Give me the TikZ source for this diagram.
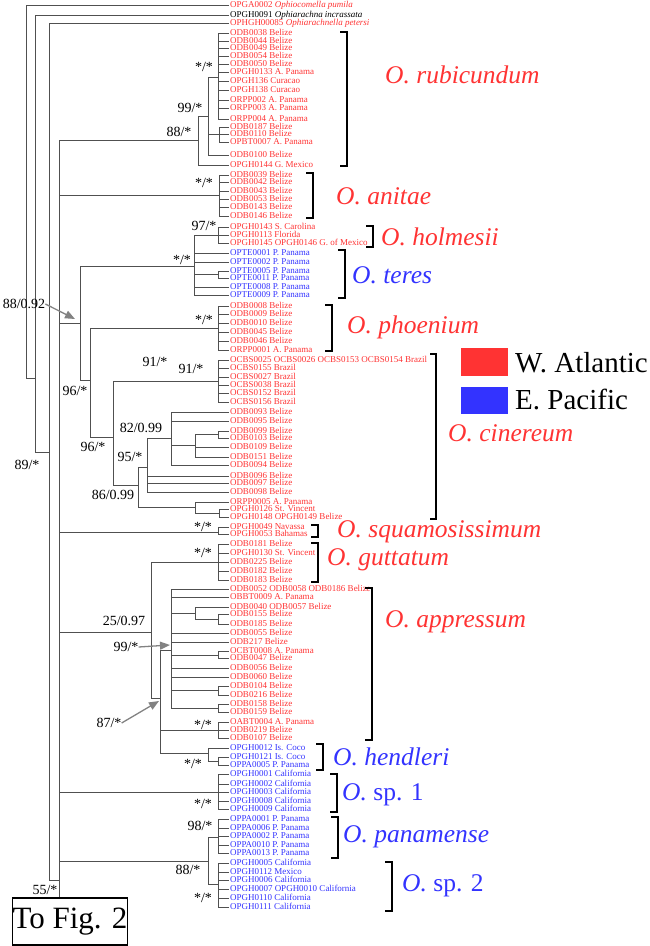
\documentclass[tikz,border=0pt]{standalone}
\usepackage{fontspec}
\setmainfont{Liberation Serif}
\usetikzlibrary{arrows.meta}
\definecolor{atl}{RGB}{255,51,51}
\definecolor{pac}{RGB}{51,51,255}
\definecolor{edgec}{RGB}{80,80,80}
\definecolor{arrc}{RGB}{130,130,130}
\newcommand\tp[4]{\node[tiplab,text=#3] (t#2) at (229,#2) {#4}; \draw[edge] (#1) |- (t#2.west);}
\begin{document}
\begin{tikzpicture}[x=1pt,y=-1pt,
 tiplab/.style={anchor=west,inner sep=0.8pt,text height=5.5pt,text depth=0.5pt,font=\fontsize{9}{9}\selectfont},
 edge/.style={draw=edgec,line width=0.7pt},
 suplab/.style={font=\fontsize{14}{14}\selectfont,inner sep=0},
 spc/.style={font=\fontsize{25.5}{25.5}\selectfont\itshape,anchor=west,inner sep=0},
 brkt/.style={draw=black,line width=1.2pt},
 arr/.style={draw=arrc,line width=1.3pt,-{Triangle[length=10pt,width=8pt]}}]
\useasboundingbox (0,0) rectangle (649,946);
% internal nodes
\coordinate (A) at (26,5);
\coordinate (B) at (35,378);
\coordinate (C) at (49,452);
\coordinate (D) at (59,880);
\coordinate (rub88) at (198,140);
\coordinate (rub99) at (208,116);
\coordinate (rubss) at (218,77);
\coordinate (subA) at (219,134);
\coordinate (anit) at (219,195);
\coordinate (n8892) at (80,323);
\coordinate (teres) at (194,266);
\coordinate (holm) at (218,235);
\coordinate (pairTE) at (218,274);
\coordinate (n96a) at (90,380);
\coordinate (phoe) at (218,328);
\coordinate (n96b) at (113,437);
\coordinate (brazil) at (218,381);
\coordinate (n86) at (138,485);
\coordinate (n95) at (147,467);
\coordinate (n82) at (171,438);
\coordinate (sub99) at (195,445);
\coordinate (pair99) at (218,434);
\coordinate (orpp) at (195,507);
\coordinate (pair2) at (219,513);
\coordinate (squam) at (218,532);
\coordinate (n2597) at (151,632);
\coordinate (gutt) at (218,562);
\coordinate (n87) at (160,698);
\coordinate (app99) at (171,650);
\coordinate (sub1) at (195,613);
\coordinate (pair155) at (218,619);
\coordinate (pairOC) at (218,655);
\coordinate (pair104) at (218,690);
\coordinate (pair158) at (218,708);
\coordinate (oabt) at (218,730);
\coordinate (hend) at (208,753);
\coordinate (pairH) at (218,761);
\coordinate (sp1) at (218,792);
\coordinate (n88b) at (208,861);
\coordinate (pana) at (218,837);
\coordinate (sp2) at (218,884);
% backbone
\draw[edge] (A) |- (B);
\draw[edge] (B) |- (C);
\draw[edge] (C) |- (D);
\foreach \c in {rub88,anit,n8892,squam,n2597,sp1,n88b} {\draw[edge] (D) |- (\c);}
\draw[edge] (rub88) |- (rub99);
\draw[edge] (rub99) |- (rubss);
\draw[edge] (rub99) |- (subA);
\draw[edge] (n8892) |- (teres);
\draw[edge] (n8892) |- (n96a);
\draw[edge] (teres) |- (holm);
\draw[edge] (teres) |- (pairTE);
\draw[edge] (n96a) |- (phoe);
\draw[edge] (n96a) |- (n96b);
\draw[edge] (n96b) |- (brazil);
\draw[edge] (n96b) |- (n86);
\draw[edge] (n86) |- (n95);
\draw[edge] (n86) |- (orpp);
\draw[edge] (n95) |- (n82);
\draw[edge] (n82) |- (sub99);
\draw[edge] (sub99) |- (pair99);
\draw[edge] (orpp) |- (pair2);
\draw[edge] (n2597) |- (gutt);
\draw[edge] (n2597) |- (n87);
\draw[edge] (n87) |- (app99);
\draw[edge] (n87) |- (oabt);
\draw[edge] (n87) |- (hend);
\draw[edge] (app99) |- (sub1);
\draw[edge] (sub1) |- (pair155);
\draw[edge] (app99) |- (pairOC);
\draw[edge] (app99) |- (pair104);
\draw[edge] (app99) |- (pair158);
\draw[edge] (hend) |- (pairH);
\draw[edge] (n88b) |- (pana);
\draw[edge] (n88b) |- (sp2);
% tips
\tp{A}{5}{atl}{OPGA0002 \textit{Ophiocomella pumila}}
\tp{B}{15}{black}{OPGH0091 \textit{Ophiarachna incrassata}}
\tp{C}{23}{atl}{OPHGH00085 \textit{Ophiarachnella petersi}}
\tp{rubss}{33}{atl}{ODB0038 Belize}
\tp{rubss}{41}{atl}{ODB0044 Belize}
\tp{rubss}{48}{atl}{ODB0049 Belize}
\tp{rubss}{56}{atl}{ODB0054 Belize}
\tp{rubss}{64}{atl}{ODB0050 Belize}
\tp{rubss}{72}{atl}{OPGH0133 A. Panama}
\tp{rubss}{81}{atl}{OPGH136 Curacao}
\tp{rubss}{90}{atl}{OPGH138 Curacao}
\tp{rubss}{100}{atl}{ORPP002 A. Panama}
\tp{rubss}{108}{atl}{ORPP003 A. Panama}
\tp{rubss}{119}{atl}{ORPP004 A. Panama}
\tp{subA}{127}{atl}{ODB0187 Belize}
\tp{subA}{134}{atl}{ODB0110 Belize}
\tp{subA}{142}{atl}{OPBT0007 A. Panama}
\tp{rub99}{155}{atl}{ODB0100 Belize}
\tp{rub88}{165}{atl}{OPGH0144 G. Mexico}
\tp{anit}{175}{atl}{ODB0039 Belize}
\tp{anit}{182}{atl}{ODB0042 Belize}
\tp{anit}{191}{atl}{ODB0043 Belize}
\tp{anit}{199}{atl}{ODB0053 Belize}
\tp{anit}{207}{atl}{ODB0143 Belize}
\tp{anit}{216}{atl}{ODB0146 Belize}
\tp{holm}{227}{atl}{OPGH0143 S. Carolina}
\tp{holm}{235}{atl}{OPGH0113 Florida}
\tp{holm}{243}{atl}{OPGH0145 OPGH0146 G. of Mexico}
\tp{teres}{253}{pac}{OPTE0001 P. Panama}
\tp{teres}{262}{pac}{OPTE0002 P. Panama}
\tp{pairTE}{271}{pac}{OPTE0005 P. Panama}
\tp{pairTE}{278}{pac}{OPTE0011 P. Panama}
\tp{teres}{287}{pac}{OPTE0008 P. Panama}
\tp{teres}{295}{pac}{OPTE0009 P. Panama}
\tp{phoe}{306}{atl}{ODB0008 Belize}
\tp{phoe}{314}{atl}{ODB0009 Belize}
\tp{phoe}{323}{atl}{ODB0010 Belize}
\tp{phoe}{332}{atl}{ODB0045 Belize}
\tp{phoe}{341}{atl}{ODB0046 Belize}
\tp{phoe}{350}{atl}{ORPP0001 A. Panama}
\tp{brazil}{360}{atl}{OCBS0025 OCBS0026 OCBS0153 OCBS0154 Brazil}
\tp{brazil}{368}{atl}{OCBS0155 Brazil}
\tp{brazil}{377}{atl}{OCBS0027 Brazil}
\tp{brazil}{385}{atl}{OCBS0038 Brazil}
\tp{brazil}{393}{atl}{OCBS0152 Brazil}
\tp{brazil}{402}{atl}{OCBS0156 Brazil}
\tp{n82}{412}{atl}{ODB0093 Belize}
\tp{n82}{421}{atl}{ODB0095 Belize}
\tp{pair99}{431}{atl}{ODB0099 Belize}
\tp{pair99}{438}{atl}{ODB0103 Belize}
\tp{sub99}{447}{atl}{ODB0109 Belize}
\tp{sub99}{457}{atl}{ODB0151 Belize}
\tp{n82}{465}{atl}{ODB0094 Belize}
\tp{n95}{476}{atl}{ODB0096 Belize}
\tp{n95}{483}{atl}{ODB0097 Belize}
\tp{n95}{492}{atl}{ODB0098 Belize}
\tp{orpp}{502}{atl}{ORPP0005 A. Panama}
\tp{pair2}{509}{atl}{OPGH0126 St. Vincent}
\tp{pair2}{517}{atl}{OPGH0148 OPGH0149 Belize}
\tp{squam}{527}{atl}{OPGH0049 Navassa}
\tp{squam}{534}{atl}{OPGH0053 Bahamas}
\tp{gutt}{544}{atl}{ODB0181 Belize}
\tp{gutt}{553}{atl}{OPGH0130 St. Vincent}
\tp{gutt}{562}{atl}{ODB0225 Belize}
\tp{gutt}{571}{atl}{ODB0182 Belize}
\tp{gutt}{580}{atl}{ODB0183 Belize}
\tp{app99}{589}{atl}{ODB0052 ODB0058 ODB0186 Belize}
\tp{app99}{597}{atl}{OBBT0009 A. Panama}
\tp{sub1}{607}{atl}{ODB0040 ODB0057 Belize}
\tp{pair155}{614}{atl}{ODB0155 Belize}
\tp{pair155}{624}{atl}{ODB0185 Belize}
\tp{app99}{633}{atl}{ODB0055 Belize}
\tp{app99}{642}{atl}{ODB217 Belize}
\tp{pairOC}{651}{atl}{OCBT0008 A. Panama}
\tp{pairOC}{658}{atl}{ODB0047 Belize}
\tp{app99}{668}{atl}{ODB0056 Belize}
\tp{app99}{677}{atl}{ODB0060 Belize}
\tp{pair104}{686}{atl}{ODB0104 Belize}
\tp{pair104}{695}{atl}{ODB0216 Belize}
\tp{pair158}{704}{atl}{ODB0158 Belize}
\tp{pair158}{712}{atl}{ODB0159 Belize}
\tp{oabt}{722}{atl}{OABT0004 A. Panama}
\tp{oabt}{730}{atl}{ODB0219 Belize}
\tp{oabt}{738}{atl}{ODB0107 Belize}
\tp{hend}{748}{pac}{OPGH0012 Is. Coco}
\tp{pairH}{757}{pac}{OPGH0121 Is. Coco}
\tp{pairH}{765}{pac}{OPPA0005 P. Panama}
\tp{sp1}{774}{pac}{OPGH0001 California}
\tp{sp1}{784}{pac}{OPGH0002 California}
\tp{sp1}{792}{pac}{OPGH0003 California}
\tp{sp1}{801}{pac}{OPGH0008 California}
\tp{sp1}{809}{pac}{OPGH0009 California}
\tp{pana}{819}{pac}{OPPA0001 P. Panama}
\tp{pana}{828}{pac}{OPPA0006 P. Panama}
\tp{pana}{836}{pac}{OPPA0002 P. Panama}
\tp{pana}{845}{pac}{OPPA0010 P. Panama}
\tp{pana}{853}{pac}{OPPA0013 P. Panama}
\tp{sp2}{863}{pac}{OPGH0005 California}
\tp{sp2}{872}{pac}{OPGH0112 Mexico}
\tp{sp2}{880}{pac}{OPGH0006 California}
\tp{sp2}{889}{pac}{OPGH0007 OPGH0010 California}
\tp{sp2}{898}{pac}{OPGH0110 California}
\tp{sp2}{907}{pac}{OPGH0111 California}
% box
\node[draw,line width=1.3pt,minimum width=110pt,minimum height=47pt,inner sep=0,font=\fontsize{31}{31}\selectfont] (box) at (70,921.5) {To Fig. 2};
\draw[edge] (D) -- (D |- box.north);
% support values
\node[suplab] at (204,67) {*/*};
\node[suplab] at (190,108) {99/*};
\node[suplab] at (179,132) {88/*};
\node[suplab] at (204,183) {*/*};
\node[suplab] at (204,226) {97/*};
\node[suplab] at (182,260) {*/*};
\node[suplab] (l8892) at (24,304) {88/0.92};
\node[suplab] at (204,320) {*/*};
\node[suplab] at (155,362) {91/*};
\node[suplab] at (191,369) {91/*};
\node[suplab] at (75,391) {96/*};
\node[suplab] at (141,428) {82/0.99};
\node[suplab] at (93,447) {96/*};
\node[suplab] at (130,457) {95/*};
\node[suplab] at (27,465) {89/*};
\node[suplab] at (113,495) {86/0.99};
\node[suplab] at (203,527) {*/*};
\node[suplab] at (203,553) {*/*};
\node[suplab] at (124,621) {25/0.97};
\node[suplab] (l99) at (126,647) {99/*};
\node[suplab] (l87) at (109,723) {87/*};
\node[suplab] at (203,725) {*/*};
\node[suplab] at (193,764) {*/*};
\node[suplab] at (203,804) {*/*};
\node[suplab] at (200,826) {98/*};
\node[suplab] at (188,870) {88/*};
\node[suplab] at (203,898) {*/*};
\node[suplab] at (45,890) {55/*};
% arrows
\coordinate (a1) at (75,319);
\coordinate (a2) at (170,645);
\coordinate (a3) at (159,701);
\draw[arr] (l8892.east) -- (a1);
\draw[arr] (l99.east) -- (a2);
\draw[arr] (l87.east) -- (a3);
% brackets
\draw[brkt] (340,32) -- (347,32) -- (347,166) -- (340,166);
\draw[brkt] (306,173) -- (313,173) -- (313,218) -- (306,218);
\draw[brkt] (366,226) -- (373,226) -- (373,247) -- (366,247);
\draw[brkt] (338,250) -- (345,250) -- (345,298) -- (338,298);
\draw[brkt] (325,305) -- (332,305) -- (332,351) -- (325,351);
\draw[brkt] (430,354) -- (436,354) -- (436,519) -- (430,519);
\draw[brkt] (311,525) -- (318,525) -- (318,537) -- (311,537);
\draw[brkt] (311,543) -- (318,543) -- (318,582) -- (311,582);
\draw[brkt] (365,588) -- (372,588) -- (372,740) -- (365,740);
\draw[brkt] (316,744) -- (323,744) -- (323,770) -- (316,770);
\draw[brkt] (330,774) -- (337,774) -- (337,812) -- (330,812);
\draw[brkt] (331,817) -- (338,817) -- (338,858) -- (331,858);
\draw[brkt] (385,862) -- (392,862) -- (392,911) -- (385,911);
% species names
\node[spc,text=atl] at (385,75) {O. rubicundum};
\node[spc,text=atl] at (336,196) {O. anitae};
\node[spc,text=atl] at (381,237) {O. holmesii};
\node[spc,text=pac] at (352,275) {O. teres};
\node[spc,text=atl] at (347,327) {O. phoenium};
\node[spc,text=atl] at (448,433) {O. cinereum};
\node[spc,text=atl] at (337,532) {O. squamosissimum};
\node[spc,text=atl] at (327,560) {O. guttatum};
\node[spc,text=atl] at (385,622) {O. appressum};
\node[spc,text=pac] at (333,757) {O. hendleri};
\node[spc,text=pac] at (342,795) {O. \upshape sp. 1};
\node[spc,text=pac] at (343,837) {O. panamense};
\node[spc,text=pac] at (402,886) {O. \upshape sp. 2};
% legend
\node[fill=atl,minimum width=47pt,minimum height=28pt,inner sep=0] (lgA) at (484.5,362) {};
\node[fill=pac,minimum width=47pt,minimum height=27pt,inner sep=0] (lgP) at (484.5,400) {};
\node[anchor=west,inner sep=0,font=\fontsize{29}{29}\selectfont] at (515,363) {W. Atlantic};
\node[anchor=west,inner sep=0,font=\fontsize{29}{29}\selectfont] at (515,399) {E. Pacific};
\end{tikzpicture}
\end{document}
